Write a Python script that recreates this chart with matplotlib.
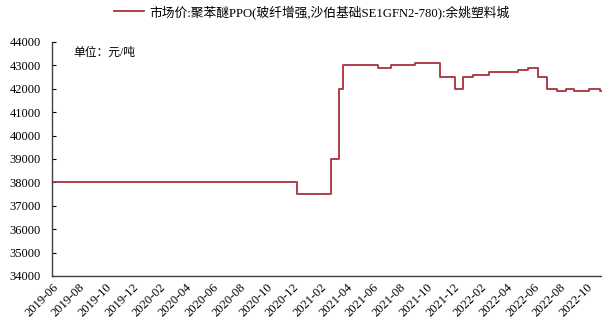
import pandas as pd
import matplotlib
matplotlib.use("Agg")
import matplotlib.pyplot as plt
import matplotlib.dates as mdates

plt.rcParams['font.family'] = ['Liberation Serif', 'Noto Sans CJK SC']
plt.rcParams['axes.unicode_minus'] = False

# price change points (step series, value holds until next date)
dates = ['2019-06-01', '2020-12-09', '2021-02-25', '2021-03-16', '2021-03-25',
         '2021-06-13', '2021-07-13', '2021-09-04', '2021-11-01', '2021-12-05',
         '2021-12-24', '2022-01-14', '2022-02-21', '2022-04-28', '2022-05-20',
         '2022-06-12', '2022-07-03', '2022-07-26', '2022-08-14', '2022-09-03',
         '2022-10-06', '2022-11-01', '2022-11-05']
prices = [38000, 37500, 39000, 42000, 43000,
          42900, 43000, 43100, 42500, 42000,
          42500, 42600, 42700, 42800, 42900,
          42500, 42000, 41900, 42000, 41900,
          42000, 41900, 41900]

series_name = '市场价:聚苯醚PPO(玻纤增强,沙伯基础SE1GFN2-780):余姚塑料城'
unit_text = '单位：元/吨'

x = pd.to_datetime(dates)

fig = plt.figure(figsize=(6.02, 3.25), dpi=100)
ax = fig.add_axes([0.0864, 0.1508, 0.9136, 0.72])

ax.step(x, prices, where='post', color='#a8323e', linewidth=1.3, label=series_name)

ax.set_ylim(34000, 44000)
ax.set_yticks(range(34000, 44001, 1000))
ax.set_xlim(pd.Timestamp('2019-06-01'), pd.Timestamp('2022-11-05'))
ax.xaxis.set_major_locator(mdates.MonthLocator(bymonth=[2, 4, 6, 8, 10, 12]))
ax.xaxis.set_major_formatter(mdates.DateFormatter('%Y-%m'))
for lbl in ax.get_xticklabels():
    lbl.set_rotation(45)
    lbl.set_ha('right')
    lbl.set_rotation_mode('anchor')

ax.tick_params(axis='y', direction='in', length=3, labelsize=9, pad=8)
ax.tick_params(axis='x', length=0, labelsize=9, pad=4)

for side in ['top', 'right']:
    ax.spines[side].set_visible(False)
for side in ['left', 'bottom']:
    ax.spines[side].set_color('#404040')
    ax.spines[side].set_linewidth(1.0)

ax.text(0.038, 0.955, unit_text, transform=ax.transAxes, fontsize=8.5,
        va='center', ha='left')

fig.legend(loc='upper center', bbox_to_anchor=(0.518, 1.02), frameon=False,
           fontsize=9.2, handlelength=2.4, handletextpad=0.4)

fig.savefig('out.png', dpi=100)
